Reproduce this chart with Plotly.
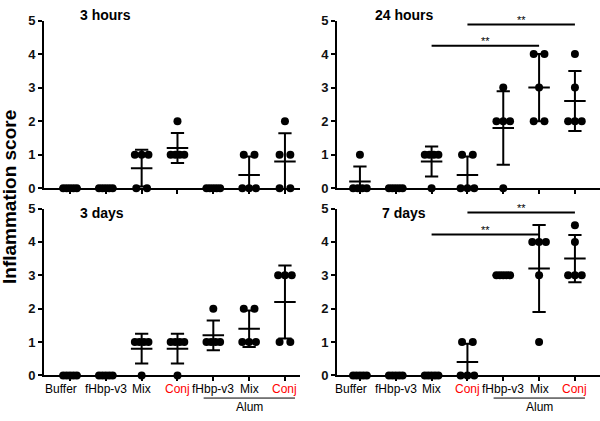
import numpy as np
import plotly.graph_objects as go

# ---------------- data ----------------
categories = ["Buffer", "fHbp-v3", "Mix", "Conj", "fHbp-v3", "Mix", "Conj"]
label_colors = ["black", "black", "black", "red", "black", "black", "red"]
alum_group = [4, 5, 6]
group_label = "Alum"

panel_titles = ["3 hours", "24 hours", "3 days", "7 days"]

scores_3h = [[0, 0, 0, 0, 0], [0, 0, 0, 0, 0], [1, 1, 1, 0, 0], [2, 1, 1, 1, 1],
             [0, 0, 0, 0, 0], [1, 1, 0, 0, 0], [2, 1, 1, 0, 0]]
scores_24h = [[1, 0, 0, 0, 0], [0, 0, 0, 0, 0], [1, 1, 1, 1, 0], [1, 1, 0, 0, 0],
              [3, 2, 2, 2, 0], [4, 4, 3, 2, 2], [4, 3, 2, 2, 2]]
scores_3d = [[0, 0, 0, 0, 0], [0, 0, 0, 0, 0], [1, 1, 1, 1, 0], [1, 1, 1, 1, 0],
             [2, 1, 1, 1, 1], [2, 2, 1, 1, 1], [3, 3, 3, 1, 1]]
scores_7d = [[0, 0, 0, 0, 0], [0, 0, 0, 0, 0], [0, 0, 0, 0, 0], [1, 1, 0, 0, 0],
             [3, 3, 3, 3, 3], [4, 4, 4, 3, 1], [4.5, 4, 3, 3, 3]]
panel_scores = [scores_3h, scores_24h, scores_3d, scores_7d]

# significance comparisons: (from category, to category, label, bar height)
sig_24h = [(2, 5, "**", 4.25), (3, 6, "**", 4.88)]
sig_7d = [(2, 5, "**", 4.22), (3, 6, "**", 4.88)]
panel_sig = [[], sig_24h, [], sig_7d]

# ---------------- layout helpers ----------------
W, H = 600, 421
FONT = "Liberation Sans, Arial, sans-serif"

xdom_left = [44 / W, 300 / W]
xdom_right = [337 / W, 1.0]
ydom_top = [1 - 188 / H, 1 - 14 / H]
ydom_bot = [1 - 382 / H, 1 - 209 / H]
xr_left = [-0.726, 6.42]
xr_right = [-0.64, 6.70]

panel_axes = [
    (xdom_left, ydom_top, xr_left),
    (xdom_right, ydom_top, xr_right),
    (xdom_left, ydom_bot, xr_left),
    (xdom_right, ydom_bot, xr_right),
]


def jitter(vals, ci):
    xs = []
    vals = list(vals)
    counts = {}
    for v in vals:
        counts[v] = counts.get(v, 0) + 1
    seen = {}
    for v in vals:
        n = counts[v]
        i = seen.get(v, 0)
        seen[v] = i + 1
        w = 0 if n == 1 else (0.3 if n == 2 else 0.38)
        off = 0 if n == 1 else -w / 2 + w * i / (n - 1)
        xs.append(ci + off)
    return xs


fig = go.Figure()
annotations = []
shapes = []

MEAN_W = 0.30
CAP_W = 0.185

for p, (scores, sig) in enumerate(zip(panel_scores, panel_sig)):
    sfx = "" if p == 0 else str(p + 1)
    xa, ya = "x" + sfx, "y" + sfx

    px, py = [], []
    for ci, vals in enumerate(scores):
        px += jitter(vals, ci)
        py += list(vals)

    lx, ly = [], []
    for ci, vals in enumerate(scores):
        arr = np.array(vals, dtype=float)
        m = arr.mean()
        sd = arr.std(ddof=1)
        lx += [ci - MEAN_W, ci + MEAN_W, None]
        ly += [m, m, None]
        if sd > 0:
            lo = max(m - sd, 0)
            hi = m + sd
            lx += [ci, ci, None, ci - CAP_W, ci + CAP_W, None]
            ly += [lo, hi, None, hi, hi, None]
            if m - sd >= 0:
                lx += [ci - CAP_W, ci + CAP_W, None]
                ly += [lo, lo, None]

    fig.add_trace(go.Scatter(x=lx, y=ly, mode="lines", xaxis=xa, yaxis=ya,
                             line=dict(color="black", width=2),
                             cliponaxis=False, showlegend=False, hoverinfo="skip"))
    fig.add_trace(go.Scatter(x=px, y=py, mode="markers", xaxis=xa, yaxis=ya,
                             marker=dict(color="black", size=8, line=dict(width=0)),
                             cliponaxis=False, showlegend=False))

    for (a, b, lab, h) in sig:
        fig.add_trace(go.Scatter(x=[a, b], y=[h, h], mode="lines", xaxis=xa, yaxis=ya,
                                 line=dict(color="black", width=2),
                                 cliponaxis=False, showlegend=False, hoverinfo="skip"))
        annotations.append(dict(x=(a + b) / 2, y=h, xref=xa, yref=ya, text=lab,
                                showarrow=False, yanchor="bottom", yshift=-3,
                                font=dict(family=FONT, size=11, color="black")))

    xdom, ydom, xr = panel_axes[p]
    fig.layout["xaxis" + sfx] = dict(
        domain=xdom, range=xr, anchor=ya, showline=True, linewidth=2, linecolor="black",
        ticks="outside", ticklen=4, tickwidth=2, tickcolor="black",
        tickvals=list(range(len(categories))), showticklabels=False,
        showgrid=False, zeroline=False, fixedrange=True)
    fig.layout["yaxis" + sfx] = dict(
        domain=ydom, range=[0, 5], anchor=xa, showline=True, linewidth=2, linecolor="black",
        ticks="outside", ticklen=4, tickwidth=2, tickcolor="black",
        tickvals=[0, 1, 2, 3, 4, 5], showgrid=False, zeroline=False,
        tickfont=dict(family=FONT, size=13, color="#111111", weight="bold"),
        fixedrange=True)

    title_x = [105, 404, 102, 404][p] / W
    title_y = 1 - [8, 8, 214, 214][p] / H
    annotations.append(dict(x=title_x, y=title_y, xref="paper", yref="paper",
                            text=panel_titles[p], showarrow=False,
                            xanchor="center", yanchor="middle",
                            font=dict(family=FONT, size=14, color="black", weight="bold")))

    if p >= 2:
        for ci, (c, col) in enumerate(zip(categories, label_colors)):
            annotations.append(dict(x=ci, y=1 - 396 / H, xref=xa, yref="paper",
                                    text=c, showarrow=False,
                                    xanchor="center", yanchor="middle",
                                    xshift=-9 if ci == 0 else 0,
                                    font=dict(family=FONT, size=12, color=col)))
        shapes.append(dict(type="line", xref=xa, yref="paper",
                           x0=alum_group[0] - 0.27, x1=alum_group[-1] + 0.28,
                           y0=1 - 405.5 / H, y1=1 - 405.5 / H,
                           line=dict(color="black", width=1)))
        annotations.append(dict(x=alum_group[1], y=1 - 415 / H, xref=xa, yref="paper",
                                text=group_label, showarrow=False,
                                xanchor="center", yanchor="middle",
                                font=dict(family=FONT, size=12, color="black")))

annotations.append(dict(x=10 / W, y=1 - 197 / H, xref="paper", yref="paper",
                        text="Inflammation score", textangle=-90, showarrow=False,
                        xanchor="center", yanchor="middle",
                        font=dict(family=FONT, size=19, color="black", weight="bold")))

fig.update_layout(width=W, height=H, margin=dict(l=0, r=0, t=0, b=0),
                  paper_bgcolor="white", plot_bgcolor="white",
                  annotations=annotations, shapes=shapes, showlegend=False)

fig.write_html("out.html")
